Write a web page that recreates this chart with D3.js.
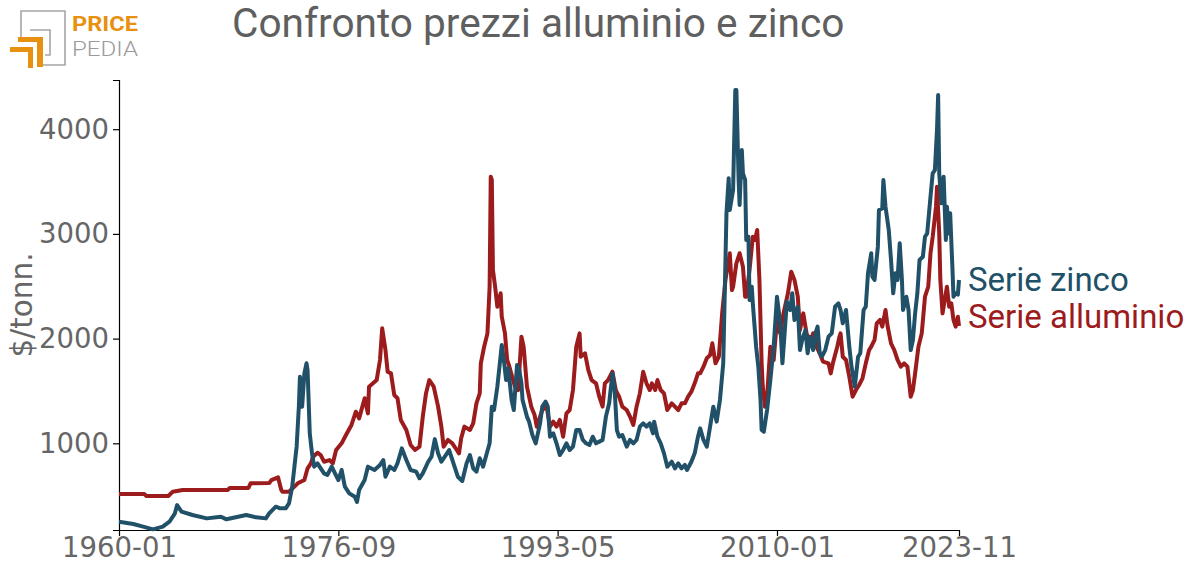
<!DOCTYPE html>
<html><head><meta charset="utf-8">
<script src="https://cdn.jsdelivr.net/npm/d3@7"></script>
<style>html,body{margin:0;padding:0;background:#fff;}svg{display:block;}</style>
</head><body>
<svg id="c" width="1196" height="574"></svg>
<script>
const title = "Confronto prezzi alluminio e zinco";
const yLabel = "$/tonn.";
const seriesNames = ["Serie zinco", "Serie alluminio"];
const xTickLabels = ["1960-01", "1976-09", "1993-05", "2010-01", "2023-11"];
const yTickValues = [1000, 2000, 3000, 4000];

const zincDates = ["1960-01","1961-02","1961-11","1962-08","1963-05","1963-11","1964-04","1964-06","1964-10","1965-08","1966-09","1967-10","1968-03","1969-09","1970-06","1971-03","1971-06","1971-12","1972-04","1972-09","1972-12","1973-03","1973-05","1973-07","1973-09","1973-10","1973-12","1974-02","1974-04","1974-05","1974-07","1974-09","1974-11","1975-02","1975-05","1975-08","1975-11","1976-03","1976-06","1976-09","1976-12","1977-03","1977-07","1977-12","1978-02","1978-04","1978-09","1978-12","1979-06","1979-11","1980-02","1980-04","1980-08","1980-12","1981-03","1981-07","1981-11","1982-03","1982-08","1982-11","1983-02","1983-07","1983-10","1984-01","1984-04","1984-07","1984-11","1985-02","1985-07","1985-10","1986-02","1986-06","1986-09","1986-12","1987-03","1987-06","1987-09","1987-12","1988-03","1988-05","1988-07","1988-10","1989-02","1989-04","1989-06","1989-08","1989-11","1990-01","1990-04","1990-06","1990-08","1990-09","1991-01","1991-03","1991-06","1991-09","1992-01","1992-03","1992-06","1992-08","1992-10","1993-01","1993-04","1993-07","1993-10","1994-01","1994-04","1994-07","1994-10","1995-01","1995-04","1995-07","1995-10","1996-01","1996-04","1996-07","1996-10","1997-01","1997-04","1997-07","1997-09","1997-11","1998-01","1998-04","1998-08","1998-11","1999-02","1999-05","1999-08","1999-11","2000-02","2000-05","2000-08","2000-09","2000-12","2001-03","2001-06","2001-09","2002-01","2002-04","2002-07","2002-10","2003-01","2003-03","2003-07","2003-10","2004-01","2004-03","2004-06","2004-09","2004-12","2005-03","2005-06","2005-09","2005-12","2006-03","2006-05","2006-06","2006-09","2006-11","2006-12","2007-02","2007-03","2007-05","2007-06","2007-08","2007-09","2007-11","2007-12","2008-02","2008-03","2008-06","2008-08","2008-10","2008-11","2009-01","2009-04","2009-07","2009-10","2010-01","2010-04","2010-06","2010-08","2010-10","2011-01","2011-03","2011-05","2011-08","2011-10","2011-12","2012-03","2012-05","2012-07","2012-10","2012-12","2013-02","2013-04","2013-06","2013-09","2013-12","2014-03","2014-06","2014-09","2014-11","2015-01","2015-04","2015-07","2015-09","2015-12","2016-03","2016-05","2016-08","2016-10","2016-12","2017-03","2017-04","2017-06","2017-09","2017-10","2018-01","2018-02","2018-04","2018-07","2018-09","2018-11","2019-01","2019-03","2019-05","2019-07","2019-08","2019-11","2020-01","2020-03","2020-05","2020-07","2020-09","2020-11","2021-02","2021-04","2021-06","2021-09","2021-11","2022-01","2022-03","2022-04","2022-05","2022-07","2022-09","2022-11","2022-12","2023-02","2023-03","2023-05","2023-06","2023-08","2023-10","2023-11"];
const zincValues = [251,229,204,178,204,251,331,410,347,315,283,299,274,315,293,283,331,395,379,379,427,586,777,968,1350,1636,1350,1668,1764,1700,1095,904,777,809,761,713,697,777,713,649,745,586,522,490,440,554,649,777,745,793,840,681,777,745,809,952,840,745,729,666,713,824,872,1040,904,824,888,936,777,681,640,809,888,761,729,857,777,888,1000,1350,1318,1541,1939,1796,1604,1716,1414,1318,1748,1700,1573,1414,1255,1207,1080,1000,1191,1350,1398,1350,1063,1095,1000,888,936,1000,936,968,1127,1127,1032,1000,984,1063,1000,1016,1032,1255,1382,1668,1509,1127,1063,1079,968,1032,1000,1032,1159,1191,1159,1191,1095,1207,1063,1000,904,777,824,761,809,761,793,745,824,904,1063,1143,1032,968,1159,1350,1207,1414,1764,3197,3531,3228,3419,4374,4374,3515,3276,3801,3579,3515,2942,2973,2369,2496,2337,1923,1732,1414,1127,1111,1318,1604,1923,2400,2146,1764,2050,2353,2273,2433,2178,2305,1891,1987,2082,1860,2018,1891,2050,2114,1860,1827,1891,2018,2050,2305,2337,2273,2146,2273,1923,1732,1541,1827,1860,2273,2305,2624,2815,2592,2560,2878,3228,3244,3515,3260,3037,2751,2433,2624,2560,2910,2560,2273,2400,2273,1891,1987,2241,2433,2751,2782,2973,3005,3355,3579,3610,4000,4327,3579,3292,3546,2942,3260,3005,3197,2687,2400,2433,2420,2560];

const aluDates = ["1960-01","1961-12","1962-02","1963-10","1964-02","1964-11","1968-04","1968-06","1969-11","1970-01","1971-06","1971-08","1972-02","1972-05","1972-06","1972-12","1973-05","1973-08","1974-02","1974-05","1974-08","1974-10","1975-02","1975-05","1975-08","1976-01","1976-04","1976-07","1976-12","1977-04","1977-09","1978-01","1978-04","1978-09","1978-12","1979-01","1979-08","1979-11","1980-01","1980-04","1980-06","1980-09","1980-12","1981-03","1981-06","1981-11","1982-03","1982-07","1982-11","1983-02","1983-05","1983-08","1983-12","1984-04","1984-07","1984-09","1985-01","1985-05","1985-09","1985-11","1986-01","1986-04","1986-09","1986-12","1987-03","1987-06","1987-07","1987-10","1988-01","1988-03","1988-04","1988-05","1988-06","1988-08","1988-10","1989-01","1989-02","1989-05","1989-07","1989-09","1990-02","1990-05","1990-08","1990-10","1991-01","1991-05","1991-08","1991-10","1992-01","1992-03","1992-07","1992-10","1993-01","1993-04","1993-07","1993-10","1994-01","1994-04","1994-07","1994-10","1995-01","1995-02","1995-06","1995-09","1995-12","1996-04","1996-07","1996-10","1996-12","1997-03","1997-07","1997-10","1998-01","1998-04","1998-08","1998-11","1999-02","1999-05","1999-08","1999-11","2000-02","2000-05","2000-07","2000-10","2000-12","2001-03","2001-06","2001-09","2002-01","2002-04","2002-07","2002-10","2003-01","2003-04","2003-07","2003-10","2004-01","2004-03","2004-06","2004-09","2004-12","2005-02","2005-05","2005-08","2005-11","2006-02","2006-06","2006-08","2006-09","2006-12","2007-03","2007-06","2007-08","2007-09","2007-12","2008-03","2008-05","2008-07","2008-09","2008-11","2008-12","2009-02","2009-04","2009-05","2009-07","2009-10","2010-01","2010-04","2010-07","2010-11","2011-02","2011-05","2011-08","2011-10","2012-01","2012-04","2012-07","2012-10","2013-01","2013-04","2013-07","2013-12","2014-02","2014-04","2014-08","2014-10","2014-11","2015-01","2015-04","2015-07","2015-10","2016-01","2016-04","2016-07","2016-10","2017-01","2017-03","2017-06","2017-08","2017-11","2018-01","2018-04","2018-06","2018-09","2018-12","2019-03","2019-06","2019-09","2019-12","2020-03","2020-05","2020-07","2020-10","2021-01","2021-04","2021-07","2021-09","2021-11","2022-02","2022-03","2022-05","2022-06","2022-08","2022-10","2022-12","2023-02","2023-04","2023-06","2023-08","2023-10","2023-11"];
const aluValues = [516,516,497,497,538,554,554,573,573,618,620,649,675,554,538,538,586,618,649,761,809,872,910,888,824,840,809,936,1000,1079,1175,1302,1238,1430,1286,1541,1604,1796,2098,1891,1684,1668,1461,1430,1223,1127,984,936,968,1255,1477,1604,1541,1350,1159,968,1032,1000,936,904,1048,1159,1127,1191,1382,1477,1764,1923,2050,2496,3546,3515,2655,2496,2305,2433,2209,2050,1796,1732,1541,1509,2018,1923,1541,1350,1270,1159,1255,1318,1350,1159,1207,1159,1223,1063,1286,1318,1509,1923,2050,1827,1860,1700,1604,1573,1445,1350,1573,1604,1684,1509,1445,1350,1318,1255,1175,1350,1477,1684,1573,1509,1573,1509,1604,1509,1477,1318,1382,1350,1318,1382,1382,1445,1493,1573,1668,1668,1732,1812,1843,1955,1764,1827,2241,2560,2815,2464,2496,2719,2815,2687,2400,2400,2655,2973,2942,3037,2560,1764,1550,1350,1445,1604,1923,1796,2178,2050,2241,2433,2639,2560,2400,2082,2241,2050,1955,2050,1923,1860,1780,1764,1668,1764,1923,2018,2050,1827,1796,1636,1445,1509,1557,1621,1764,1891,1923,1987,2146,2178,2114,2273,2114,1955,1891,1796,1732,1764,1732,1445,1509,1668,1923,2050,2400,2496,2815,2973,3260,3451,3005,2560,2241,2369,2496,2305,2337,2178,2114,2209,2120];

const parse = d3.timeParse("%Y-%m");
const fmt = d3.timeFormat("%Y-%m");
const zinc = zincDates.map((d, i) => ({date: parse(d), value: zincValues[i]}));
const alu = aluDates.map((d, i) => ({date: parse(d), value: aluValues[i]}));

const svg = d3.select("#c");
const mLeft = 119, mRight = 959, mTop = 80, mBottom = 530;
const x = d3.scaleTime().domain([parse(xTickLabels[0]), parse(xTickLabels[xTickLabels.length - 1])]).range([mLeft, mRight]);
const y = d3.scaleLinear().domain([172, 4470]).range([mBottom, mTop]);

const blue = "#215168", red = "#9c1b1c", grey = "#666666";

// logo
const logo = svg.append("g");
logo.append("path").attr("d", "M43,65 H65 V11 H21 V37").attr("fill", "none").attr("stroke", "#a6a6a6").attr("stroke-width", 1.6);
logo.append("path").attr("d", "M30,30 H50 V55 H45").attr("fill", "none").attr("stroke", "#a6a6a6").attr("stroke-width", 1.6);
logo.append("path").attr("d", "M18,37 H43 V67 H37 V42 H18 Z").attr("fill", "#e8900f");
logo.append("path").attr("d", "M10,47 H33 V68 H28 V52 H10 Z").attr("fill", "#e8900f");
logo.append("text").attr("x", 72).attr("y", 31).attr("font-family", "Roboto").attr("font-weight", 700).attr("font-size", 20)
  .attr("textLength", 66).attr("lengthAdjust", "spacingAndGlyphs").attr("fill", "#e8900f").text("PRICE");
logo.append("text").attr("x", 72).attr("y", 56).attr("font-family", "Roboto").attr("font-weight", 300).attr("font-size", 21)
  .attr("textLength", 66).attr("lengthAdjust", "spacingAndGlyphs").attr("fill", "#9a9a9a").text("PEDIA");

// title
svg.append("text").attr("x", 232).attr("y", 37).attr("font-family", "Roboto").attr("font-size", 40.6)
  .attr("fill", "#5f5f5f").text(title);

// axes
const xAxis = d3.axisBottom(x).tickValues(xTickLabels.map(parse)).tickFormat(fmt).tickSizeInner(6).tickSizeOuter(0);
const gx = svg.append("g").attr("transform", `translate(0,${mBottom})`).call(xAxis);
gx.selectAll("text").attr("font-family", "DejaVu Sans").attr("font-size", 27.5).attr("fill", grey).attr("dy", "0.72em").attr("y", 7);
gx.selectAll("line,path").attr("stroke", "#000").attr("stroke-width", 1.2);

const yAxis = d3.axisLeft(y).tickValues(yTickValues).tickFormat(d3.format("d")).tickSizeInner(6).tickSizeOuter(6);
const gy = svg.append("g").attr("transform", `translate(${mLeft},0)`).call(yAxis);
gy.selectAll("text").attr("font-family", "DejaVu Sans").attr("font-size", 27.5).attr("fill", grey).attr("x", -10);
gy.selectAll("line,path").attr("stroke", "#000").attr("stroke-width", 1.2);

svg.append("text").attr("transform", "translate(32,305) rotate(-90)").attr("text-anchor", "middle")
  .attr("font-family", "DejaVu Sans").attr("font-size", 29.5).attr("fill", grey).text(yLabel);

// lines
const line = d3.line().x(d => x(d.date)).y(d => y(d.value));
svg.append("path").datum(alu).attr("d", line).attr("fill", "none").attr("stroke", red).attr("stroke-width", 4).attr("stroke-linejoin", "round");
svg.append("path").datum(zinc).attr("d", line).attr("fill", "none").attr("stroke", blue).attr("stroke-width", 4).attr("stroke-linejoin", "round");

// legend labels
svg.append("text").attr("x", 968).attr("y", 291).attr("font-family", "Roboto").attr("font-size", 33).attr("fill", blue).text(seriesNames[0]);
svg.append("text").attr("x", 968).attr("y", 328).attr("font-family", "Roboto").attr("font-size", 33).attr("fill", red).text(seriesNames[1]);

if (zincDates.length !== zincValues.length || aluDates.length !== aluValues.length) {
  throw new Error("length mismatch");
}
</script>
</body></html>
